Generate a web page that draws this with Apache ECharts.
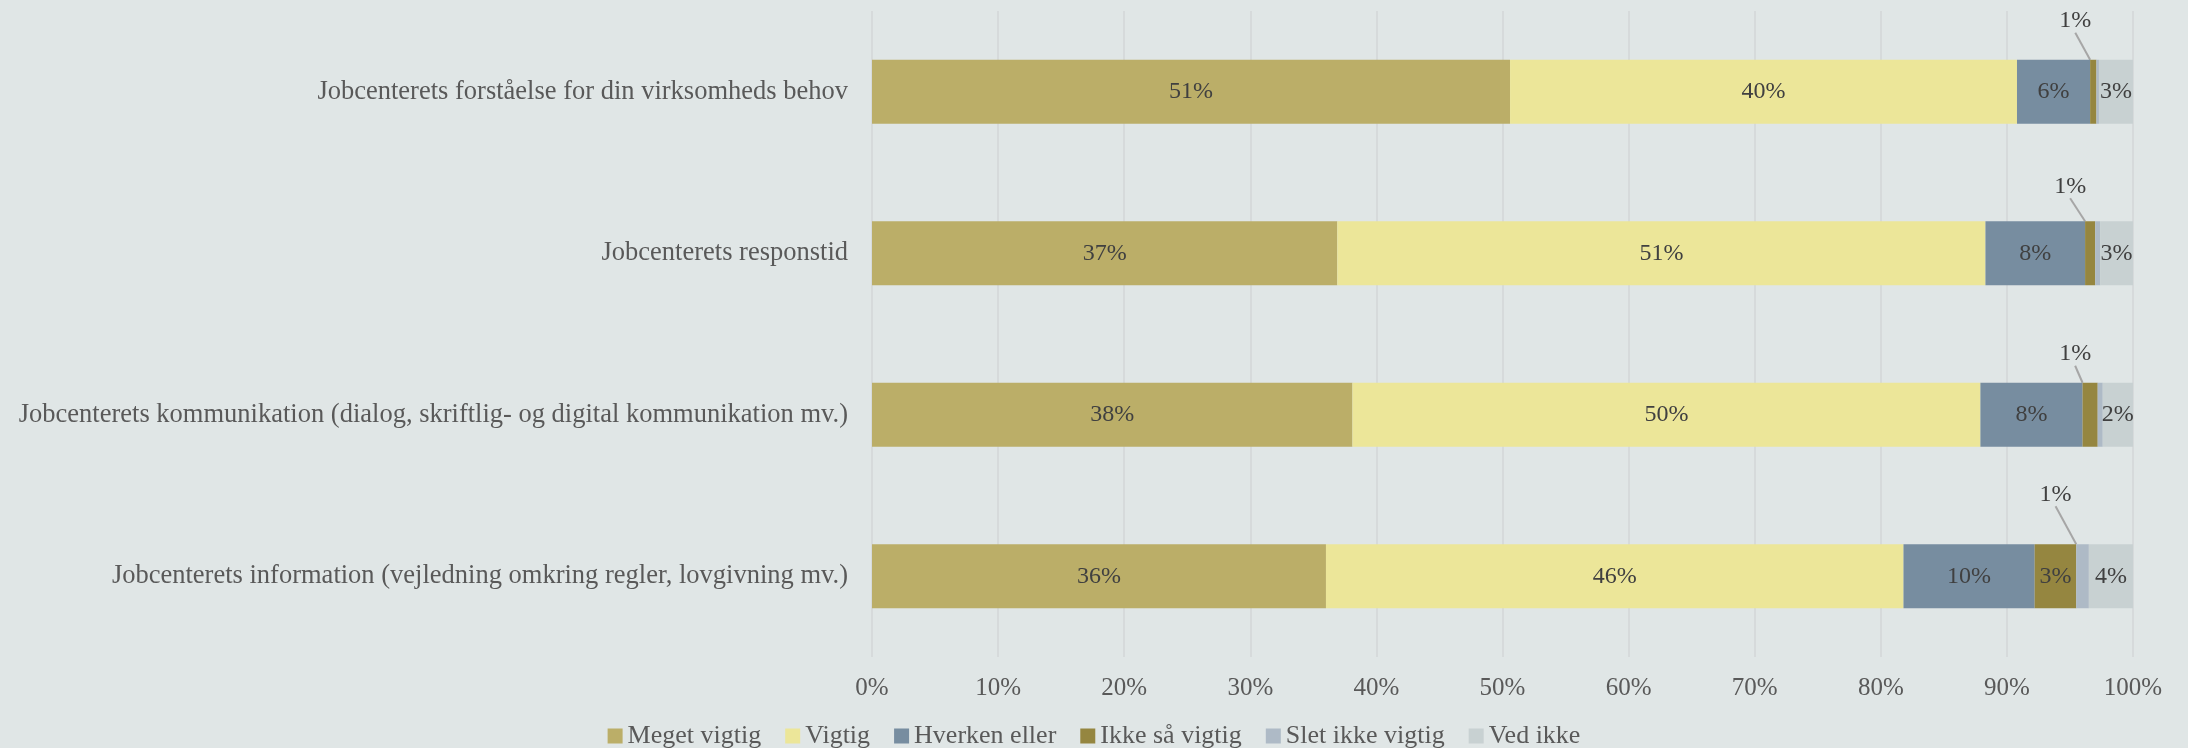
<!DOCTYPE html>
<html>
<head>
<meta charset="utf-8">
<script src="https://cdn.jsdelivr.net/npm/echarts@6/dist/echarts.min.js"></script>
<style>
html,body{margin:0;padding:0;background:#E0E6E6;}
#c{width:2188px;height:748px;}
</style>
</head>
<body>
<div id="c"></div>
<script>
// ---- data ----
const categories = [
  'Jobcenterets forståelse for din virksomheds behov',
  'Jobcenterets responstid',
  'Jobcenterets kommunikation (dialog, skriftlig- og digital kommunikation mv.)',
  'Jobcenterets information (vejledning omkring regler, lovgivning mv.)'
];
const seriesNames = ['Meget vigtig','Vigtig','Hverken eller','Ikke så vigtig','Slet ikke vigtig','Ved ikke'];
const megetVigtig   = [50.6, 36.9, 38.1, 36.0];
const vigtig        = [40.2, 51.4, 49.8, 45.8];
const hverkenEller  = [5.8, 7.9, 8.1, 10.4];
const ikkeSaaVigtig = [0.5, 0.8, 1.2, 3.3];
const sletIkkeVigtig= [0.2, 0.4, 0.4, 1.0];
const vedIkke       = [2.7, 2.6, 2.4, 3.5];
const xTicks = [0,10,20,30,40,50,60,70,80,90,100];
// which series has its label called out above the bar, per category
const calloutSeries = [3, 3, 3, 4];

// ---- styles ----
const colors = ['#BBAE68','#ECE699','#778DA0','#958640','#AEBAC6','#C8D1D2'];
const calloutShift = [[-18,-22],[-20,-18],[-15,-12],[-27,-33]];
const FONT = 'Liberation Serif';

const allValues = [megetVigtig, vigtig, hverkenEller, ikkeSaaVigtig, sletIkkeVigtig, vedIkke];

const series = seriesNames.map((name, si) => ({
  name: name,
  type: 'bar',
  stack: 'total',
  barWidth: 64,
  itemStyle: { color: colors[si] },
  label: {
    show: true,
    position: 'inside',
    fontFamily: FONT,
    fontSize: 24,
    color: '#404040',
    formatter: p => Math.round(p.value) + '%'
  },
  labelLine: { show: true, lineStyle: { color: '#A6A6A6', width: 2 } },
  labelLayout: function (params) {
    const ci = params.dataIndex;
    if (calloutSeries[ci] === si) {
      return { dx: calloutShift[ci][0], dy: calloutShift[ci][1] };
    }
    return {};
  },
  emphasis: { disabled: true },
  data: allValues[si].map((v, ci) => {
    const shown = Math.round(v) >= 1;
    const item = { value: v, label: { show: shown } };
    if (calloutSeries[ci] === si) {
      item.label.position = 'top';
      item.label.distance = 5;
    }
    return item;
  })
}));

const chart = echarts.init(document.getElementById('c'), null, { renderer: 'canvas' });
chart.setOption({
  backgroundColor: '#E0E6E6',
  animation: false,
  grid: { left: 872, right: 55, top: 11, bottom: 91, containLabel: false },
  legend: {
    top: 723,
    left: 'center',
    padding: 0,
    itemWidth: 15,
    itemHeight: 15,
    itemGap: 24,
    icon: 'rect',
    textStyle: { fontFamily: FONT, fontSize: 26, color: '#595959' },
    data: seriesNames
  },
  xAxis: {
    type: 'value',
    min: xTicks[0],
    max: xTicks[xTicks.length - 1],
    interval: xTicks[1] - xTicks[0],
    axisLine: { show: false },
    axisTick: { show: false },
    splitLine: { show: true, lineStyle: { color: '#D3D6D7', width: 1.5 } },
    axisLabel: { fontFamily: FONT, fontSize: 25, color: '#595959', margin: 19, formatter: '{value}%' }
  },
  yAxis: {
    type: 'category',
    inverse: true,
    data: categories,
    axisLine: { show: false },
    axisTick: { show: false },
    axisLabel: { fontFamily: FONT, fontSize: 26.5, color: '#595959', margin: 24 }
  },
  series: series
});
</script>
</body>
</html>
